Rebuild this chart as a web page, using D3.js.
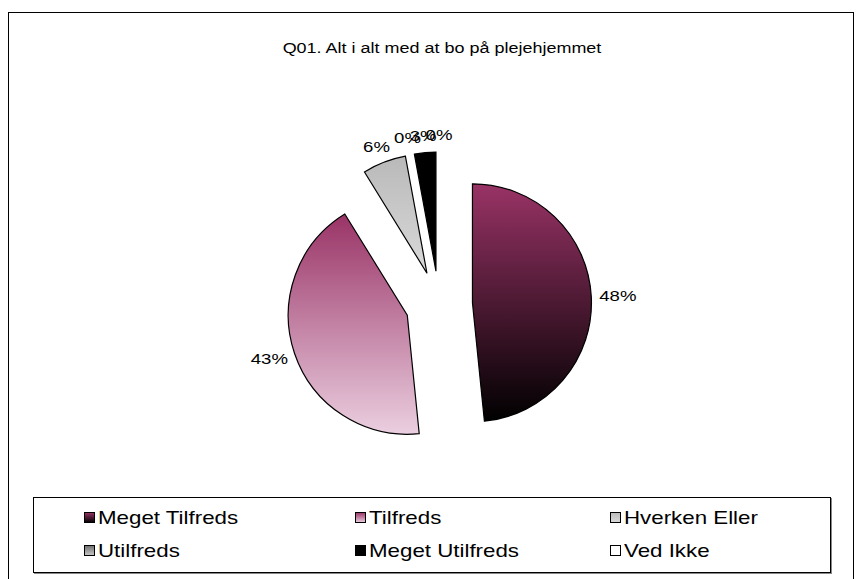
<!DOCTYPE html>
<html>
<head>
<meta charset="utf-8">
<script src="https://cdn.jsdelivr.net/npm/d3@7"></script>
<style>
  html, body { margin: 0; padding: 0; background: #fff; }
  svg { display: block; font-family: "Liberation Sans", Arial, sans-serif; }
</style>
</head>
<body>
<svg id="chart" width="859" height="579"></svg>
<script>
// ---- data ----
const title = "Q01. Alt i alt med at bo på plejehjemmet";
const categories = ["Meget Tilfreds", "Tilfreds", "Hverken Eller", "Utilfreds", "Meget Utilfreds", "Ved Ikke"];
const values = [48.4, 42.8, 5.9, 0, 2.9, 0];           // percent
const valueLabels = ["48%", "43%", "6%", "0%", "3%", "0%"];

// ---- styles ----
const gradTop    = ["#993366", "#993366", "#b9b9b9", "#6e6e6e", "#000000", "#ffffff"];
const gradBottom = ["#000000", "#ebcfe0", "#dadada", "#c8c8c8", "#000000", "#ffffff"];
const SX = 1.24; // horizontal stretch of the original rendering's text

const W = 859, H = 579;
const svg = d3.select("#chart");
const defs = svg.append("defs");

categories.forEach((c, i) => {
  const g = defs.append("linearGradient").attr("id", "g" + i)
    .attr("x1", 0).attr("y1", 0).attr("x2", 0).attr("y2", 1);
  g.append("stop").attr("offset", "0%").attr("stop-color", gradTop[i]);
  g.append("stop").attr("offset", "100%").attr("stop-color", gradBottom[i]);
});

function stretchedText(parent, x, y, str, size, anchor) {
  return parent.append("text")
    .attr("transform", `translate(${x},${y}) scale(${SX},1)`)
    .attr("text-anchor", anchor || "start")
    .attr("font-size", size).attr("fill", "#000").text(str);
}

// outer frame
svg.append("rect").attr("x", 8.5).attr("y", 12.5).attr("width", 845).attr("height", 600)
  .attr("fill", "#fff").attr("stroke", "#000").attr("stroke-width", 1);

// title
stretchedText(svg, 442, 53, title, 14.5, "middle");

// pie
const cx = 439, cy = 304.5, R = 119, explode = 33.5, labelPad = 8;
const pie = d3.pie().sort(null).value(d => d).startAngle(0).endAngle(2 * Math.PI);
const arcs = pie(values);
const arc = d3.arc().innerRadius(0).outerRadius(R);

const gPie = svg.append("g").attr("transform", `translate(${cx},${cy})`);

arcs.forEach((a, i) => {
  const mid = (a.startAngle + a.endAngle) / 2;
  const ox = Math.sin(mid) * explode, oy = -Math.cos(mid) * explode;
  if (a.endAngle - a.startAngle > 0) {
    gPie.append("path")
      .attr("d", arc(a))
      .attr("transform", `translate(${ox},${oy})`)
      .attr("fill", `url(#g${i})`)
      .attr("stroke", "#000").attr("stroke-width", 1.2).attr("stroke-linejoin", "miter");
  }
});

// labels
const labelSize = 15;
arcs.forEach((a, i) => {
  const mid = (a.startAngle + a.endAngle) / 2;
  const s = Math.sin(mid), c = -Math.cos(mid);
  const px = s * (explode + R + labelPad), py = c * (explode + R + labelPad);
  const t = stretchedText(gPie, 0, 0, valueLabels[i], labelSize, "middle")
    .attr("dominant-baseline", "central");
  const bb = t.node().getBBox();
  const w = bb.width * SX, h = bb.height;
  t.attr("transform", `translate(${px + s * w / 2},${py + c * h / 2}) scale(${SX},1)`);
});

// legend
const lg = svg.append("g");
lg.append("rect").attr("x", 33.5).attr("y", 497.5).attr("width", 797).attr("height", 75)
  .attr("fill", "#fff").attr("stroke", "#000").attr("stroke-width", 1);
lg.append("line").attr("x1", 34).attr("x2", 832).attr("y1", 573.5).attr("y2", 573.5).attr("stroke", "#888");
lg.append("line").attr("x1", 831.5).attr("x2", 831.5).attr("y1", 498).attr("y2", 574).attr("stroke", "#888");

const colX = d3.scaleOrdinal().domain([0, 1, 2]).range([84, 355, 610]);
const rowY = d3.scalePoint().domain([0, 1]).range([518, 551]);
categories.forEach((c, i) => {
  const col = i % 3, row = Math.floor(i / 3);
  const x = colX(col), y = rowY(row);
  lg.append("rect").attr("x", x + 0.5).attr("y", y - 5.5).attr("width", 10).attr("height", 10)
    .attr("fill", `url(#g${i})`).attr("stroke", "#000").attr("stroke-width", 1);
  stretchedText(lg, x + 14, y, c, 18, "start").attr("dominant-baseline", "central");
});
</script>
</body>
</html>
